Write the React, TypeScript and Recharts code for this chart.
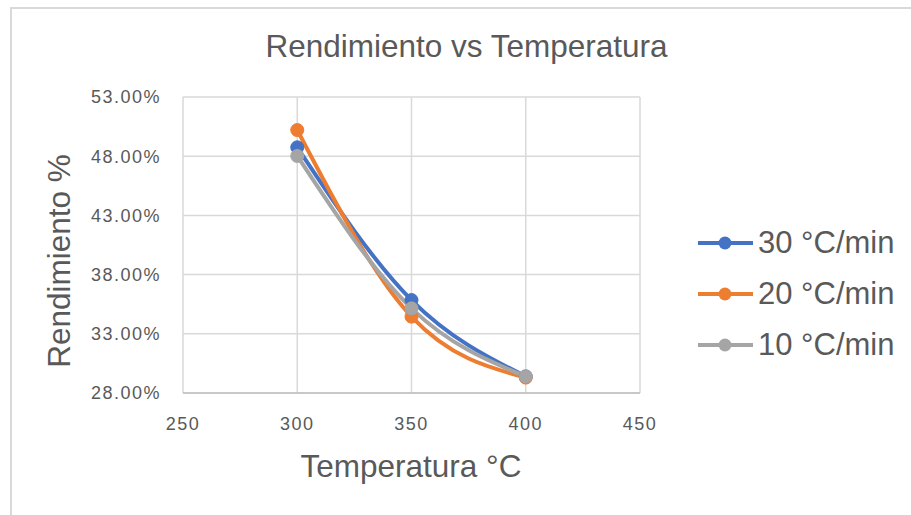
import React from "react";
import { LineChart, Line, XAxis, YAxis, CartesianGrid, Label } from "recharts";

const temps = [300, 350, 400];
const rate30 = [0.4875, 0.3585, 0.294];
const rate20 = [0.5021, 0.3445, 0.293];
const rate10 = [0.4802, 0.3515, 0.294];
const xTicks = [250, 300, 350, 400, 450];
const yTicks = [0.28, 0.33, 0.38, 0.43, 0.48, 0.53];

const series = [
  { key: "r30", name: "30 °C/min", color: "#4472C4", values: rate30 },
  { key: "r20", name: "20 °C/min", color: "#ED7D31", values: rate20 },
  { key: "r10", name: "10 °C/min", color: "#A5A5A5", values: rate10 },
];

const data = temps.map((t, i) => ({
  t,
  r30: rate30[i],
  r20: rate20[i],
  r10: rate10[i],
}));

const textColor = "#595959";
const titleFont = "'Liberation Sans', Arial, sans-serif";
const tickStyle = {
  fontSize: 18,
  fill: textColor,
  fontFamily: titleFont,
  letterSpacing: 1.5,
};

function XTitle() {
  return (
    <text x={411} y={477} textAnchor="middle" fontSize={31.5} fill={textColor} fontFamily={titleFont}>
      Temperatura °C
    </text>
  );
}

function YTitle() {
  return (
    <text
      x={70}
      y={261}
      transform="rotate(-90 70 261)"
      textAnchor="middle"
      fontSize={31.5}
      fill={textColor}
      fontFamily={titleFont}
    >
      Rendimiento %
    </text>
  );
}

export default function App() {
  return (
    <div
      style={{
        position: "absolute",
        left: 0,
        top: 0,
        width: 911,
        height: 515,
        overflow: "hidden",
        background: "#fff",
      }}
    >
      <div
        style={{
          position: "absolute",
          left: 10,
          top: 7,
          width: 1000,
          height: 600,
          border: "2px solid #d9d9d9",
        }}
      />
      <div
        style={{
          position: "absolute",
          left: 0,
          top: 28,
          width: 933,
          textAlign: "center",
          fontFamily: titleFont,
          fontSize: 31.5,
          lineHeight: "36px",
          color: textColor,
        }}
      >
        Rendimiento vs Temperatura
      </div>
      <div style={{ position: "absolute", left: 0, top: 0 }}>
        <LineChart
          width={911}
          height={515}
          data={data}
          margin={{ top: 97, right: 271, bottom: 32, left: 0 }}
        >
          <CartesianGrid stroke="#d9d9d9" strokeWidth={1.5} />
          <XAxis
            type="number"
            dataKey="t"
            domain={[250, 450]}
            ticks={xTicks}
            height={90}
            tickLine={false}
            tickSize={0}
            tickMargin={24}
            axisLine={{ stroke: "#bfbfbf", strokeWidth: 1.5 }}
            tick={tickStyle}
          >
            <Label content={<XTitle />} />
          </XAxis>
          <YAxis
            type="number"
            domain={[0.28, 0.53]}
            ticks={yTicks}
            width={183}
            tickLine={false}
            tickSize={0}
            tickMargin={22}
            axisLine={false}
            tick={tickStyle}
            tickFormatter={(v: number) => `${(v * 100).toFixed(2)}%`}
          >
            <Label content={<YTitle />} />
          </YAxis>
          {series.map((s) => (
            <Line
              key={s.key}
              type="monotone"
              dataKey={s.key}
              name={s.name}
              stroke={s.color}
              strokeWidth={4}
              dot={{ r: 6.5, fill: s.color, stroke: s.color, strokeWidth: 1 }}
              activeDot={false}
              isAnimationActive={false}
            />
          ))}
        </LineChart>
      </div>
      <div style={{ position: "absolute", left: 698, top: 217 }}>
        {series.map((s) => (
          <div
            key={s.key}
            style={{ display: "flex", alignItems: "center", height: 51 }}
          >
            <svg width={58} height={20} style={{ marginRight: 2 }}>
              <line x1={0} y1={10} x2={55} y2={10} stroke={s.color} strokeWidth={4} />
              <circle cx={27} cy={10} r={6.5} fill={s.color} />
            </svg>
            <span style={{ fontFamily: titleFont, fontSize: 31, color: textColor }}>
              {s.name}
            </span>
          </div>
        ))}
      </div>
    </div>
  );
}
